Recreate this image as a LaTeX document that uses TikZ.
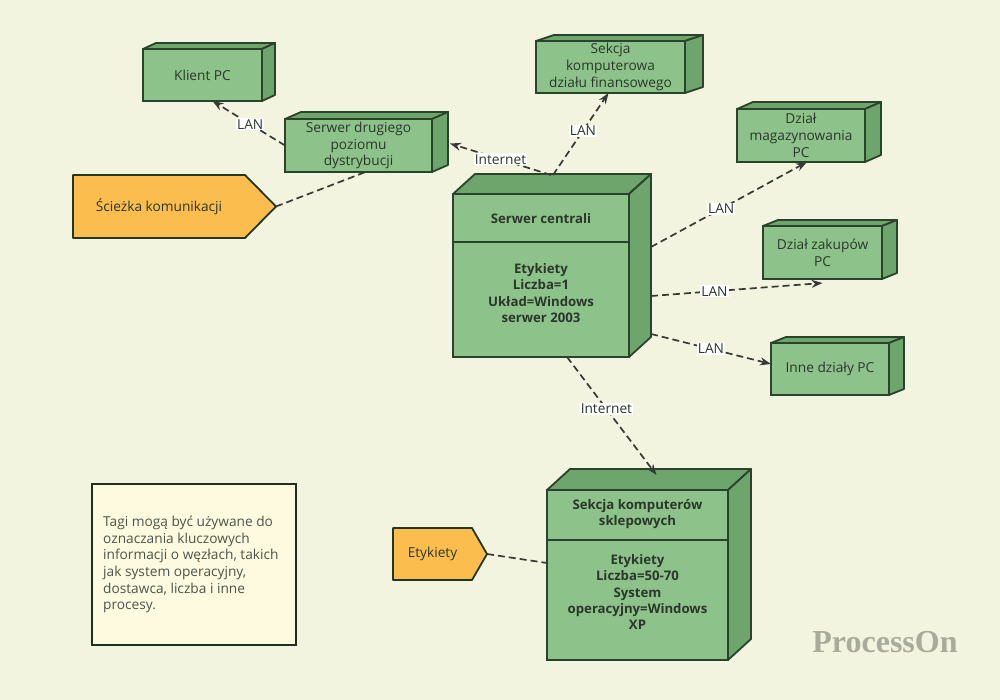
\documentclass[tikz,border=0pt]{standalone}
\usepackage{fontspec}
\setmainfont{Open Sans}
\newfontfamily\logofont{Liberation Serif}
\usetikzlibrary{arrows.meta,calc}
\definecolor{bg}{HTML}{F2F4E0}
\definecolor{gf}{HTML}{8DC38A}
\definecolor{gs}{HTML}{6EA56C}
\definecolor{bd}{HTML}{2A432B}
\definecolor{og}{HTML}{FBBE4E}
\definecolor{tx}{HTML}{2B372B}
\definecolor{cn}{HTML}{353A35}
\definecolor{notef}{HTML}{FEFAE0}
\definecolor{logoc}{HTML}{A9AC9A}
\newcommand\fs{\fontsize{13.7}{16.7}\selectfont}
\newcommand\fsb{\fontsize{13.2}{16.3}\selectfont\bfseries}
\tikzset{
 front/.style={draw=bd, fill=gf, line width=1.8pt, outer sep=0pt, inner sep=2pt, align=center, text=tx, font=\fs},
 face/.style={draw=bd, fill=gs, line width=1.8pt, line join=round},
 conn/.style={draw=cn, dash pattern=on 7pt off 4pt, line width=1.7pt},
 arr/.style={conn, -{Stealth[length=11pt,width=8pt]}},
 lbl/.style={fill=white, inner sep=1pt, text=tx, font=\fs},
 tagtext/.style={draw=none, outer sep=0pt, inner sep=0pt, text=tx, font=\fs},
 tagshape/.style={draw=bd!80!black, fill=og, line width=1.8pt, line join=round},
 divider/.style={draw=bd, line width=1.8pt},
 boldtext/.style={align=center, text=tx, font=\fsb},
}
\newcommand\threed[8]{%
 \node[front, minimum width={#4pt-#2pt}, minimum height={#5pt-#3pt}] (#1) at ({(#2+#4)/2},{(#3+#5)/2}) {#8};
 \path[face] (#1.north west) -- ++(#6,-#7) -- ++({#4-#2},0) -- (#1.north east) -- cycle;
 \path[face] (#1.north east) -- ++(#6,-#7) -- ++(0,{#5-#3}) -- (#1.south east) -- cycle;
}
\begin{document}
\begin{tikzpicture}[x=1pt,y=-1pt]
\useasboundingbox (0,0) rectangle (1000,700);
\fill[bg] (0,0) rectangle (1000,700);

% boxes
\threed{klient}{143}{49}{262}{101}{13}{6}{Klient PC}
\threed{srv2}{285}{119}{432}{172}{16}{7}{Serwer drugiego\\poziomu\\dystrybucji}
\threed{fin}{536}{41}{685}{93}{18}{6}{Sekcja\\komputerowa\\działu finansowego}
\threed{mag}{737}{109}{865}{162}{16}{7}{Dział\\magazynowania\\PC}
\threed{zak}{763}{226}{882}{279}{15}{6}{Dział zakupów\\PC}
\threed{inne}{771}{343}{889}{395}{15}{6}{Inne działy PC}
\threed{central}{453}{194}{629}{357}{22}{20}{}
\draw[divider] ($(central.north west)+(0,48)$) -- ($(central.north east)+(0,48)$);
\node[boldtext] (centralt) at ($(central.north)+(0,25)$) {Serwer centrali};
\node[boldtext] (centralb) at ($(central.north)+(0,99)$) {Etykiety\\Liczba=1\\Układ=Windows\\serwer 2003};
\threed{shop}{547}{490}{728}{660}{23}{21}{}
\draw[divider] ($(shop.north west)+(0,50)$) -- ($(shop.north east)+(0,50)$);
\node[boldtext] (shopt) at ($(shop.north)+(0,24)$) {Sekcja komputerów\\sklepowych};
\node[boldtext] (shopb) at ($(shop.north)+(0,102)$) {Etykiety\\Liczba=50-70\\System\\operacyjny=Windows\\XP};

% tags
\node[tagtext, minimum width=172pt, minimum height=63pt] (tag1) at (159,206.5) {};
\path[tagshape] (tag1.north west) -- (tag1.north east) -- ($(tag1.east)+(31,0)$) -- (tag1.south east) -- (tag1.south west) -- cycle;
\node[tagtext] (tag1t) at (tag1) {Ścieżka komunikacji};
\node[tagtext, minimum width=79pt, minimum height=52pt] (tag2) at (432.5,554) {};
\path[tagshape] (tag2.north west) -- (tag2.north east) -- ($(tag2.east)+(15,0)$) -- (tag2.south east) -- (tag2.south west) -- cycle;
\node[tagtext] (tag2t) at (tag2) {Etykiety};

% note
\node[draw=bd!70!black, fill=notef, line width=1.8pt, minimum width=204pt, minimum height=161pt, outer sep=0pt] (note) at (194,564.5) {};
\node[anchor=west, align=left, text=tx!85, font=\fs, inner sep=0pt] (notet) at ($(note.west)+(11,0)$) {Tagi mogą być używane do\\oznaczania kluczowych\\informacji o węzłach, takich\\jak system operacyjny,\\dostawca, liczba i inne\\procesy.};

% connectors
\draw[arr] (srv2.west) -- node[lbl, pos=0.48] {LAN} ([xshift=10pt]klient.south);
\draw[conn] ($(tag1.east)+(31,0)$) -- ([xshift=7pt]srv2.south);
\draw[arr] ($(central.north)+(10,-19)$) -- node[lbl, pos=0.5] {Internet} ($(srv2.east)+(18,-2)$);
\draw[arr] ($(central.north)+(12,-19)$) -- node[lbl, pos=0.54] {LAN} ([xshift=-2pt]fin.south);
\draw[arr] ($(central.north east)+(22,53)$) -- node[lbl, pos=0.45] {LAN} ([xshift=6pt]mag.south);
\draw[arr] ($(central.north east)+(22,102)$) -- node[lbl, pos=0.37] {LAN} ($(zak.south)+(0,4)$);
\draw[arr] ($(central.north east)+(22,140)$) -- node[lbl, pos=0.5] {LAN} ($(inne.west)+(0,-5)$);
\draw[arr] ([xshift=26pt]central.south) -- node[lbl, pos=0.44] {Internet} ($(shop.north)+(19,-15)$);
\draw[conn] ($(tag2.east)+(15,0)$) -- ($(shop.west)+(0,-12)$);

% logo
\node[anchor=base, text=logoc, font=\logofont\fontsize{32}{32}\selectfont\bfseries] (logo) at (885,652) {ProcessOn};
\end{tikzpicture}
\end{document}
